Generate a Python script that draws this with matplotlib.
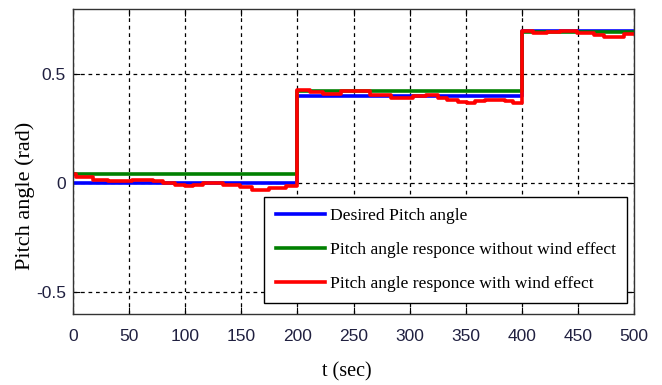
import numpy as np
import matplotlib
matplotlib.use("Agg")
import matplotlib.pyplot as plt

# desired pitch angle (step reference)
t_ref = [0, 200, 400, 500]
desired = [0.0, 0.40, 0.70, 0.70]

# response without wind
no_wind = [0.045, 0.422, 0.692, 0.692]

# response with wind (piecewise constant)
t_wind = [0, 3, 18, 31, 53, 71, 80, 91, 100, 107, 116, 134, 149, 160, 175, 190,
          200, 211, 223, 239, 265, 283, 303, 315, 325, 333, 343, 351, 358, 367, 385, 392,
          400, 410, 422, 434, 449, 464, 473, 491, 500]
wind = [0.045, 0.028, 0.017, 0.009, 0.017, 0.009, 0.001, -0.006, -0.014, -0.006, 0.0, -0.006,
        -0.018, -0.029, -0.021, -0.014,
        0.430, 0.419, 0.411, 0.423, 0.404, 0.393, 0.400, 0.404, 0.391, 0.382, 0.373, 0.366,
        0.376, 0.382, 0.376, 0.368,
        0.699, 0.687, 0.694, 0.699, 0.687, 0.678, 0.669, 0.683, 0.683]

xticks = [0, 50, 100, 150, 200, 250, 300, 350, 400, 450, 500]
yticks = [-0.5, 0, 0.5]
ytick_labels = ['-0.5', '0', '0.5']

serif = ['Liberation Serif', 'DejaVu Serif']
sans = ['Liberation Sans', 'DejaVu Sans']

fig = plt.figure(figsize=(6.62, 3.85), dpi=100)
ax = fig.add_axes([0.110, 0.184, 0.848, 0.793])

ax.plot(t_ref, desired, drawstyle='steps-post', color='#0000ff', lw=2.6,
        label='Desired Pitch angle')
ax.plot(t_ref, no_wind, drawstyle='steps-post', color='#008000', lw=2.6,
        label='Pitch angle responce without wind effect')
ax.plot(t_wind, wind, drawstyle='steps-post', color='#ff0000', lw=2.6,
        label='Pitch angle responce with wind effect')

ax.set_xlim(0, 500)
ax.set_ylim(-0.6, 0.8)
ax.set_xticks(xticks)
ax.set_yticks(yticks)
ax.set_yticklabels(ytick_labels)
for lab in ax.get_xticklabels() + ax.get_yticklabels():
    lab.set_family(sans)
    lab.set_fontsize(12.5)
    lab.set_color('#202040')

ax.tick_params(direction='in', length=5, width=0.8, top=True, right=True,
               pad=5)
ax.tick_params(axis='x', pad=11)
ax.grid(True, color='black', linestyle=(0, (3, 3)), linewidth=0.9)
for s in ax.spines.values():
    s.set_linewidth(1.0)
    s.set_color('#333333')

ax.set_xlabel('t (sec)', family=serif, fontsize=14.5)
ax.xaxis.set_label_coords(0.488, -0.157)
ax.set_ylabel('Pitch angle (rad)', family=serif, fontsize=16)
ax.yaxis.set_label_coords(-0.068, 0.387)

leg = ax.legend(loc='lower right', bbox_to_anchor=(0.988, 0.036), borderaxespad=0,
                prop={'family': serif, 'size': 12.6}, fancybox=False, framealpha=1,
                edgecolor='black', handlelength=2.8, labelspacing=1.0,
                borderpad=0.65, handletextpad=0.3)
leg.get_frame().set_linewidth(1.0)

fig.savefig('out.png', dpi=100)
